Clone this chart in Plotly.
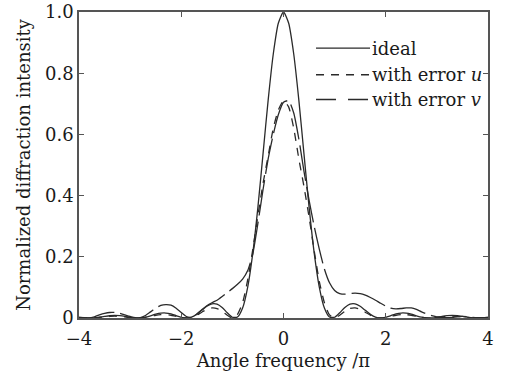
import plotly.graph_objects as go

# ---------------- data ----------------
x_vals = [-4.0, -3.9, -3.8, -3.7, -3.6, -3.5, -3.4, -3.3, -3.2, -3.1,
          -3.0, -2.9, -2.8, -2.7, -2.6, -2.5, -2.4, -2.3, -2.2, -2.1,
          -2.0, -1.9, -1.8, -1.7, -1.6, -1.5, -1.4, -1.3, -1.2, -1.1,
          -1.0, -0.9, -0.8, -0.7, -0.6, -0.5, -0.4, -0.3, -0.2, -0.1,
          0.0, 0.1, 0.2, 0.3, 0.4, 0.5, 0.6, 0.7, 0.8, 0.9,
          1.0, 1.1, 1.2, 1.3, 1.4, 1.5, 1.6, 1.7, 1.8, 1.9,
          2.0, 2.1, 2.2, 2.3, 2.4, 2.5, 2.6, 2.7, 2.8, 2.9,
          3.0, 3.1, 3.2, 3.3, 3.4, 3.5, 3.6, 3.7, 3.8, 3.9, 4.0]

ideal = [0.0022, 0.0006, 0.0, 0.0007, 0.0027, 0.0052, 0.0074, 0.0083, 0.0075, 0.0052,
         0.0023, 0.0003, 0.0003, 0.0028, 0.0073, 0.0123, 0.0158, 0.0162, 0.0132, 0.0078,
         0.0024, 0.0, 0.0030, 0.0119, 0.0250, 0.0382, 0.0463, 0.0454, 0.0344, 0.0171,
         0.0025, 0.0031, 0.0324, 0.1010, 0.2130, 0.3632, 0.5372, 0.7122, 0.8627, 0.9641,
         1.0, 0.9641, 0.8627, 0.7122, 0.5372, 0.3632, 0.2130, 0.1010, 0.0324, 0.0031,
         0.0025, 0.0171, 0.0344, 0.0454, 0.0463, 0.0382, 0.0250, 0.0119, 0.0030, 0.0,
         0.0024, 0.0078, 0.0132, 0.0162, 0.0158, 0.0123, 0.0073, 0.0028, 0.0003, 0.0003,
         0.0023, 0.0052, 0.0075, 0.0083, 0.0074, 0.0052, 0.0027, 0.0007, 0.0, 0.0006, 0.0022]

error_u = [0.0015, 0.0005, 0.0, 0.0005, 0.002, 0.0035, 0.005, 0.006, 0.005, 0.0035,
           0.0015, 0.0, 0.0, 0.002, 0.005, 0.009, 0.011, 0.011, 0.009, 0.005,
           0.002, 0.0, 0.002, 0.009, 0.019, 0.028, 0.033, 0.031, 0.022, 0.009,
           0.0, 0.012, 0.05, 0.125, 0.225, 0.335, 0.44, 0.53, 0.62, 0.68,
           0.71, 0.69, 0.62, 0.52, 0.43, 0.33, 0.22, 0.12, 0.05, 0.01,
           0.0, 0.009, 0.022, 0.031, 0.033, 0.028, 0.019, 0.009, 0.002, 0.0,
           0.002, 0.005, 0.009, 0.011, 0.011, 0.009, 0.005, 0.002, 0.0, 0.0,
           0.0015, 0.0035, 0.005, 0.006, 0.005, 0.0035, 0.002, 0.0005, 0.0, 0.0005, 0.0015]

error_v = [0.002, 0.001, 0.0, 0.004, 0.01, 0.015, 0.018, 0.018, 0.015, 0.01,
           0.005, 0.001, 0.001, 0.008, 0.02, 0.032, 0.041, 0.044, 0.042, 0.032,
           0.018, 0.005, 0.002, 0.012, 0.027, 0.04, 0.05, 0.058, 0.07, 0.083,
           0.096, 0.11, 0.127, 0.155, 0.21, 0.31, 0.42, 0.52, 0.6, 0.665,
           0.705, 0.71, 0.67, 0.585, 0.48, 0.385, 0.30, 0.225, 0.16, 0.115,
           0.09, 0.08, 0.078, 0.08, 0.081, 0.08, 0.075, 0.067, 0.058, 0.048,
           0.039, 0.032, 0.03, 0.031, 0.033, 0.033, 0.028, 0.02, 0.013, 0.008,
           0.004, 0.002, 0.001, 0.002, 0.004, 0.005, 0.004, 0.002, 0.001, 0.001, 0.002]

x_ticks = [-4, -2, 0, 2, 4]
x_tick_text = ["\u22124", "\u22122", "0", "2", "4"]
y_ticks = [0, 0.2, 0.4, 0.6, 0.8, 1.0]
y_tick_text = ["0", "0.2", "0.4", "0.6", "0.8", "1.0"]

series_names = ["ideal", "with error <i>u</i>", "with error <i>v</i>"]

# ---------------- figure ----------------
FONT = "DejaVu Serif"
LINE_COLOR = "#2a2a2a"
TEXT_COLOR = "#1a1a1a"
FS = 18

fig = go.Figure()
fig.add_trace(go.Scatter(x=x_vals, y=ideal, mode="lines", name=series_names[0],
                         line=dict(color=LINE_COLOR, width=1.3, shape="spline", smoothing=0.6)))
fig.add_trace(go.Scatter(x=x_vals, y=error_u, mode="lines", name=series_names[1],
                         line=dict(color=LINE_COLOR, width=1.3, dash="8px,7px",
                                   shape="spline", smoothing=0.6)))
fig.add_trace(go.Scatter(x=x_vals, y=error_v, mode="lines", name=series_names[2],
                         line=dict(color=LINE_COLOR, width=1.3, dash="36px,6px",
                                   shape="spline", smoothing=0.6)))

# manual legend (long sample lines like the reference)
legend_y = [0.882, 0.795, 0.714]
legend_dash = ["solid", "8px,7px", "20px,12px"]
for yy, dsh, name in zip(legend_y, legend_dash, series_names):
    fig.add_shape(type="line", xref="paper", yref="paper",
                  x0=0.5795, x1=0.7115, y0=yy, y1=yy,
                  line=dict(color=LINE_COLOR, width=1.3, dash=dsh))
    fig.add_annotation(xref="paper", yref="paper", x=0.714, y=yy,
                       text=name, showarrow=False, xanchor="left", yanchor="middle",
                       borderpad=0,
                       font=dict(family=FONT, size=FS, color=TEXT_COLOR))

axis_common = dict(
    showline=True, linecolor="#555555", linewidth=1.5, mirror="ticks",
    ticks="inside", ticklen=5, tickcolor="#555555", tickwidth=1,
    showgrid=False, zeroline=False, automargin=False,
    tickfont=dict(family=FONT, size=FS, color=TEXT_COLOR),
)

fig.update_layout(
    width=507, height=371,
    margin=dict(l=79, r=19, t=12, b=53),
    paper_bgcolor="white", plot_bgcolor="white",
    showlegend=False,
    font=dict(family=FONT, size=FS, color=TEXT_COLOR),
    xaxis=dict(range=[-4, 4], tickvals=x_ticks, ticktext=x_tick_text,
               ticklabelstandoff=4,
               title=dict(text="Angle frequency /\u03c0", standoff=6,
                          font=dict(family=FONT, size=FS, color=TEXT_COLOR)),
               **axis_common),
    yaxis=dict(range=[0, 1.0], tickvals=y_ticks, ticktext=y_tick_text,
               title=dict(text="Normalized diffraction intensity", standoff=10,
                          font=dict(family=FONT, size=FS, color=TEXT_COLOR)),
               **axis_common),
)

fig.write_html("out.html")
